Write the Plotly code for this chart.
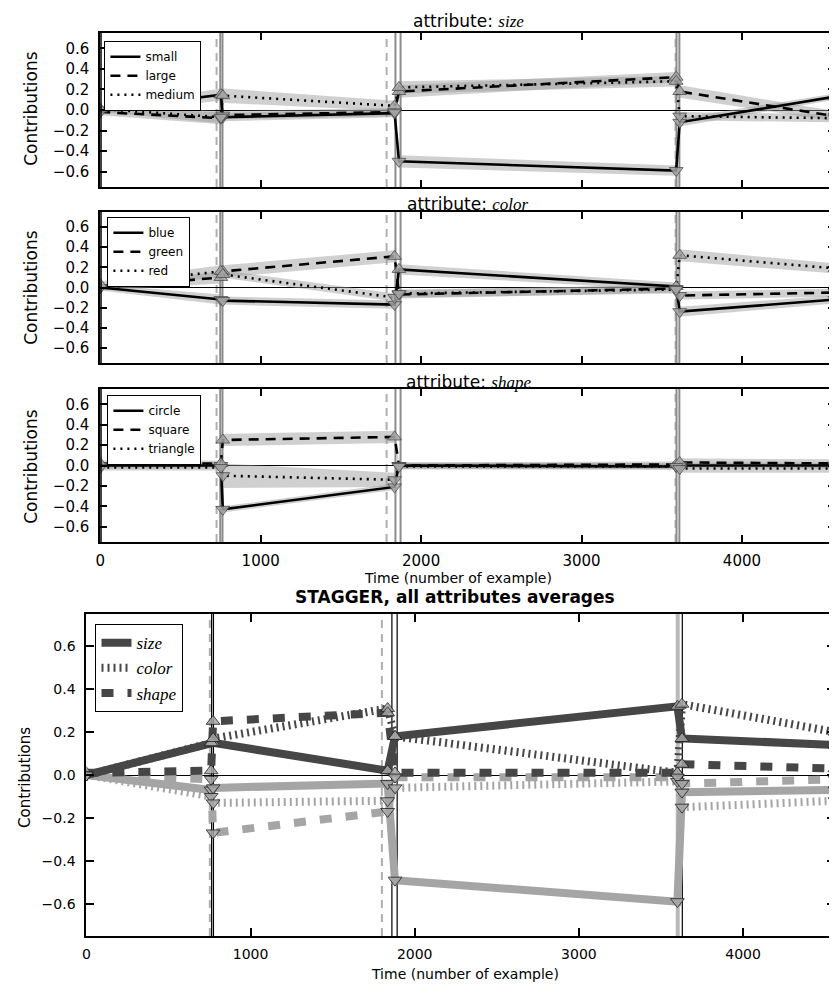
import plotly.graph_objects as go

# ---------------- data ----------------
X_TOP = [0, 752, 764, 1835, 1862, 3590, 3612, 4580]
X_BOT = [0, 760, 772, 1835, 1880, 3600, 3628, 4560]

# attribute: size
SIZE_NAMES = ["small", "large", "medium"]
SMALL = [0.00, 0.15, -0.07, -0.03, -0.50, -0.59, -0.12, 0.13]
LARGE = [-0.02, -0.08, -0.05, -0.02, 0.18, 0.32, 0.18, -0.06]
MEDIUM = [0.01, -0.07, 0.14, 0.04, 0.22, 0.28, -0.06, -0.08]
SMALL_SD = [0.03, 0.06, 0.04, 0.04, 0.06, 0.05, 0.04, 0.03]
LARGE_SD = [0.03, 0.06, 0.04, 0.04, 0.06, 0.05, 0.06, 0.05]
MEDIUM_SD = [0.03, 0.06, 0.07, 0.05, 0.06, 0.05, 0.04, 0.04]

# attribute: color
COLOR_NAMES = ["blue", "green", "red"]
BLUE = [0.00, -0.12, -0.13, -0.17, 0.18, 0.01, -0.24, -0.12]
GREEN = [0.00, 0.10, 0.16, 0.31, -0.07, -0.01, -0.08, -0.05]
RED = [0.03, 0.16, 0.13, -0.10, -0.06, -0.02, 0.32, 0.19]
BLUE_SD = [0.03, 0.05, 0.04, 0.04, 0.05, 0.04, 0.05, 0.04]
GREEN_SD = [0.03, 0.06, 0.06, 0.06, 0.04, 0.04, 0.04, 0.04]
RED_SD = [0.03, 0.06, 0.04, 0.04, 0.04, 0.04, 0.06, 0.05]

# attribute: shape
SHAPE_NAMES = ["circle", "square", "triangle"]
CIRCLE = [0.00, 0.00, -0.43, -0.21, 0.00, -0.01, 0.00, 0.00]
SQUARE = [0.02, 0.02, 0.25, 0.28, 0.00, 0.01, 0.03, 0.02]
TRIANGLE = [-0.02, -0.02, -0.10, -0.14, -0.01, -0.01, -0.03, -0.03]
CIRCLE_SD = [0.03, 0.03, 0.03, 0.03, 0.03, 0.03, 0.03, 0.03]
SQUARE_SD = [0.03, 0.03, 0.06, 0.06, 0.03, 0.03, 0.04, 0.04]
TRIANGLE_SD = [0.03, 0.03, 0.12, 0.07, 0.03, 0.03, 0.04, 0.04]

# averages
AVG_NAMES = ["size", "color", "shape"]
SIZE_POS = [0.00, 0.15, 0.15, 0.02, 0.18, 0.32, 0.17, 0.14]
SIZE_NEG = [0.00, -0.07, -0.06, -0.04, -0.49, -0.59, -0.08, -0.07]
COLOR_POS = [0.00, 0.15, 0.17, 0.31, 0.18, 0.01, 0.33, 0.20]
COLOR_NEG = [0.00, -0.10, -0.13, -0.12, -0.06, -0.03, -0.15, -0.12]
SHAPE_POS = [0.01, 0.02, 0.25, 0.29, 0.01, 0.01, 0.05, 0.03]
SHAPE_NEG = [0.00, -0.02, -0.27, -0.17, -0.01, -0.01, -0.04, -0.02]

# drift marks
TOP_DASHED = [725, 1785, 3586]
TOP_SOLID = [748, 762, 1840, 1872, 3592, 3610]
BOT_DASHED = [752, 1800]
BOT_BLACK = [763, 774, 1861, 1893, 3630]
BOT_GRAY = [3602]

X_TICKS = [0, 1000, 2000, 3000, 4000]
Y_TICKS = [-0.6, -0.4, -0.2, 0.0, 0.2, 0.4, 0.6]

# ---------------- figure ----------------
OFF = 8                      # default page margin of the html body
W, H = 837 - OFF, 987 - OFF
fig = go.Figure()

BAND = "rgba(150,150,150,0.45)"
MK_FILL = "rgb(165,165,165)"
MK_LINE = "rgb(80,80,80)"
TOP_DASH = ["solid", "10px,7px", "2px,5px"]


def px_x(p):
    return (p - OFF) / W


def px_y(p):
    return 1 - (p - OFF) / H


def ax(k):
    s = "" if k == 1 else str(k)
    return "x" + s, "y" + s


def tri_symbols(vals):
    return ["triangle-up" if v > 0 else "triangle-down" for v in vals]


def add_top_panel(k, names, series, sds, legend):
    xa, ya = ax(k)
    for ys, sd in zip(series, sds):
        up = [v + d for v, d in zip(ys, sd)]
        lo = [v - d for v, d in zip(ys, sd)]
        fig.add_trace(go.Scatter(
            x=X_TOP + X_TOP[::-1], y=up + lo[::-1], mode="lines",
            fill="toself", fillcolor=BAND, line=dict(width=0),
            hoverinfo="skip", showlegend=False, xaxis=xa, yaxis=ya))
    for name, ys, dash in zip(names, series, TOP_DASH):
        fig.add_trace(go.Scatter(
            x=X_TOP, y=ys, mode="lines", name=name,
            line=dict(color="black", width=2.6, dash=dash),
            legend=legend, xaxis=xa, yaxis=ya))
    for ys in series:
        fig.add_trace(go.Scatter(
            x=X_TOP, y=ys, mode="markers",
            marker=dict(symbol=tri_symbols(ys), size=12, color=MK_FILL,
                        opacity=0.85, line=dict(color=MK_LINE, width=1)),
            hoverinfo="skip", showlegend=False, xaxis=xa, yaxis=ya))


add_top_panel(1, SIZE_NAMES, [SMALL, LARGE, MEDIUM],
              [SMALL_SD, LARGE_SD, MEDIUM_SD], "legend")
add_top_panel(2, COLOR_NAMES, [BLUE, GREEN, RED],
              [BLUE_SD, GREEN_SD, RED_SD], "legend2")
add_top_panel(3, SHAPE_NAMES, [CIRCLE, SQUARE, TRIANGLE],
              [CIRCLE_SD, SQUARE_SD, TRIANGLE_SD], "legend3")

# bottom panel: averages
DARK = "rgb(70,70,70)"
LIGHT = "rgb(165,165,165)"
BOT_DASH = ["solid", "2px,4px", "12px,14px"]
pos_series = [SIZE_POS, COLOR_POS, SHAPE_POS]
neg_series = [SIZE_NEG, COLOR_NEG, SHAPE_NEG]
for ys, dash in zip(neg_series, BOT_DASH):
    fig.add_trace(go.Scatter(
        x=X_BOT, y=ys, mode="lines", line=dict(color=LIGHT, width=8, dash=dash),
        showlegend=False, hoverinfo="skip", xaxis="x4", yaxis="y4"))
for name, ys, dash in zip(AVG_NAMES, pos_series, BOT_DASH):
    fig.add_trace(go.Scatter(
        x=X_BOT, y=ys, mode="lines", name=f"<i>{name}</i>",
        line=dict(color=DARK, width=8, dash=dash),
        legend="legend4", xaxis="x4", yaxis="y4"))
for ys in pos_series + neg_series:
    fig.add_trace(go.Scatter(
        x=X_BOT, y=ys, mode="markers",
        marker=dict(symbol=tri_symbols(ys), size=12, color=MK_FILL,
                    opacity=0.85, line=dict(color="rgb(40,40,40)", width=1)),
        hoverinfo="skip", showlegend=False, xaxis="x4", yaxis="y4"))

# ---------------- layout ----------------
TOP_X_DOM = [px_x(96), 1.0]
BOT_X_DOM = [px_x(82), 1.0]
panels = {
    1: (TOP_X_DOM, [px_y(187), px_y(33)], False, 4580),
    2: (TOP_X_DOM, [px_y(363), px_y(212)], False, 4580),
    3: (TOP_X_DOM, [px_y(542), px_y(389)], True, 4580),
    4: (BOT_X_DOM, [px_y(936), px_y(614)], True, 4560),
}
TICK_FONT_TOP = dict(family="DejaVu Sans", size=15, color="black")
TICK_FONT_BOT = dict(family="DejaVu Sans", size=14, color="black")

layout = dict(
    width=W, height=H, margin=dict(l=0, r=0, t=0, b=0),
    paper_bgcolor="white", plot_bgcolor="white", showlegend=True,
)
for k, (xd, yd, show_x, xmax) in panels.items():
    sfx = "" if k == 1 else str(k)
    xa, ya = ax(k)
    tf = TICK_FONT_TOP if k < 4 else TICK_FONT_BOT
    layout[f"xaxis{sfx}"] = dict(
        domain=xd, range=[0, xmax], anchor=ya, tickvals=X_TICKS,
        showticklabels=show_x, ticks="inside", ticklen=7 if k < 4 else 8,
        tickwidth=1.5, tickcolor="black", mirror="ticks", showline=True,
        linecolor="black", linewidth=2, showgrid=False, zeroline=False,
        tickfont=tf, ticklabelstandoff=4)
    layout[f"yaxis{sfx}"] = dict(
        domain=yd, range=[-0.75, 0.75], anchor=xa, tickvals=Y_TICKS,
        tickformat=".1f", ticks="inside", ticklen=7 if k < 4 else 8,
        tickwidth=1.5, tickcolor="black", mirror="ticks", showline=True,
        linecolor="black", linewidth=2, showgrid=False, zeroline=True,
        zerolinecolor="black", zerolinewidth=1.2, tickfont=tf,
        ticklabelstandoff=6)

leg_common = dict(bgcolor="white", bordercolor="black", borderwidth=1.2,
                  xanchor="left", yanchor="top", tracegroupgap=0,
                  itemwidth=30)
layout["legend"] = dict(leg_common, x=px_x(100), y=px_y(41),
                        font=dict(family="DejaVu Sans", size=12, color="black"))
layout["legend2"] = dict(leg_common, x=px_x(103), y=px_y(217),
                         font=dict(family="DejaVu Sans", size=12, color="black"))
layout["legend3"] = dict(leg_common, x=px_x(103), y=px_y(395),
                         font=dict(family="DejaVu Sans", size=12, color="black"))
layout["legend4"] = dict(leg_common, x=px_x(91), y=px_y(624),
                         font=dict(family="Liberation Serif", size=17, color="black"))

shapes = []
for k in (1, 2, 3):
    xa, ya = ax(k)
    for xv in TOP_DASHED:
        shapes.append(dict(type="line", xref=xa, yref=f"{ya} domain",
                           x0=xv, x1=xv, y0=0, y1=1, layer="below",
                           line=dict(color="rgb(175,175,175)", width=2, dash="8px,6px")))
    for xv in TOP_SOLID:
        shapes.append(dict(type="line", xref=xa, yref=f"{ya} domain",
                           x0=xv, x1=xv, y0=0, y1=1, layer="below",
                           line=dict(color="rgb(140,140,140)", width=2)))
    shapes.append(dict(type="line", xref=xa, yref=f"{ya} domain",
                       x0=0, x1=0, y0=0, y1=1, layer="above",
                       line=dict(color="black", width=3)))
for xv in BOT_DASHED:
    shapes.append(dict(type="line", xref="x4", yref="y4 domain",
                       x0=xv, x1=xv, y0=0, y1=1, layer="below",
                       line=dict(color="rgb(175,175,175)", width=2, dash="8px,6px")))
for xv in BOT_GRAY:
    shapes.append(dict(type="line", xref="x4", yref="y4 domain",
                       x0=xv, x1=xv, y0=0, y1=1, layer="below",
                       line=dict(color="rgb(185,185,185)", width=4)))
for xv in BOT_BLACK:
    shapes.append(dict(type="line", xref="x4", yref="y4 domain",
                       x0=xv, x1=xv, y0=0, y1=1, layer="below",
                       line=dict(color="black", width=1.2)))
layout["shapes"] = shapes


def italic(word):
    return f"<span style='font-family:Liberation Serif'><i>{word}</i></span>"


ann = []
title_font = dict(family="DejaVu Sans", size=17, color="black")
for word, yc in (("size", 21), ("color", 204), ("shape", 382)):
    ann.append(dict(text="attribute: " + italic(word), x=px_x(467), y=px_y(yc),
                    xref="paper", yref="paper", showarrow=False,
                    xanchor="center", yanchor="middle", font=title_font))
ann.append(dict(text="<b>STAGGER, all attributes averages</b>", x=px_x(454),
                y=px_y(597), xref="paper", yref="paper", showarrow=False,
                xanchor="center", yanchor="middle",
                font=dict(family="DejaVu Sans", size=17, color="black")))
ann.append(dict(text="Time (number of example)", x=px_x(457), y=px_y(578),
                xref="paper", yref="paper", showarrow=False,
                xanchor="center", yanchor="middle",
                font=dict(family="DejaVu Sans", size=14, color="black")))
ann.append(dict(text="Time (number of example)", x=px_x(464), y=px_y(974),
                xref="paper", yref="paper", showarrow=False,
                xanchor="center", yanchor="middle",
                font=dict(family="DejaVu Sans", size=14, color="black")))
for yc in (108, 287, 466):
    ann.append(dict(text="Contributions", x=px_x(26), y=px_y(yc),
                    xref="paper", yref="paper", showarrow=False, textangle=-90,
                    xanchor="center", yanchor="middle",
                    font=dict(family="DejaVu Sans", size=17, color="black")))
ann.append(dict(text="Contributions", x=px_x(20), y=px_y(777),
                xref="paper", yref="paper", showarrow=False, textangle=-90,
                xanchor="center", yanchor="middle",
                font=dict(family="DejaVu Sans", size=15, color="black")))
layout["annotations"] = ann

fig.update_layout(**layout)
fig.write_html("out.html")
